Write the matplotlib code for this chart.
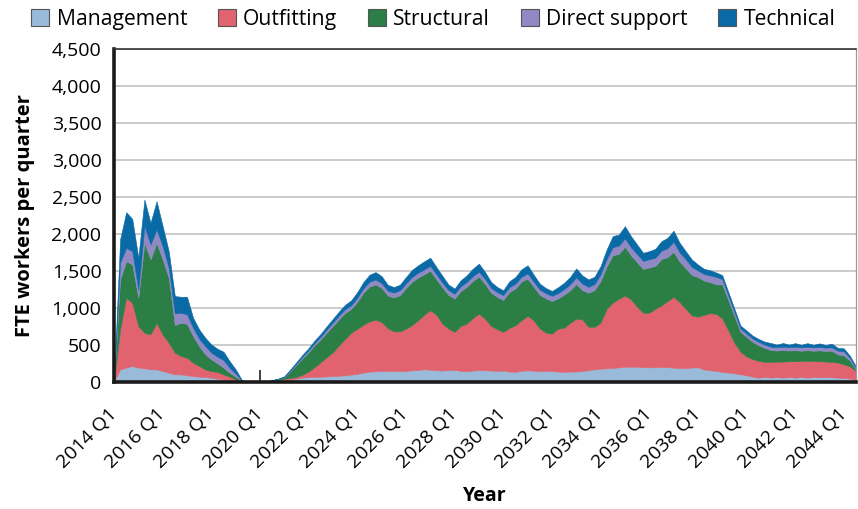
import matplotlib.pyplot as plt
from matplotlib.patches import Patch
from matplotlib.ticker import FuncFormatter

plt.rcParams['font.family'] = ['Open Sans', 'DejaVu Sans']

# FTE workers per quarter, 2014 Q1 .. 2044 Q3
start_year = 2014

management = [
    0, 171, 194, 216, 194, 185, 171, 171, 148, 126,
    103, 103, 90, 81, 72, 67, 58, 45, 36, 27,
    13, 5, 0, 0, 0, 0, 10, 15, 18, 30,
    45, 58, 68, 70, 72, 76, 80, 85, 90, 100,
    112, 125, 140, 145, 147, 148, 148, 148, 148, 159,
    160, 173, 165, 159, 155, 160, 165, 150, 145, 155,
    160, 158, 155, 150, 155, 140, 137, 150, 159, 150,
    145, 150, 150, 140, 138, 140, 142, 148, 160, 171,
    180, 185, 189, 198, 207, 207, 207, 200, 198, 200,
    203, 200, 194, 190, 189, 195, 198, 170, 159, 150,
    136, 127, 118, 104, 91, 73, 59, 68, 59, 66,
    59, 66, 59, 68, 59, 68, 63, 70, 63, 59,
    55, 45, 27]

outfitting = [
    0, 540, 944, 855, 562, 481, 472, 630, 495, 405,
    293, 248, 238, 180, 144, 104, 90, 90, 67, 45,
    23, 5, 0, 0, 0, 0, 5, 10, 27, 24,
    23, 41, 76, 133, 198, 262, 325, 410, 495, 566,
    608, 649, 679, 696, 663, 581, 536, 536, 572, 611,
    674, 737, 804, 751, 634, 562, 512, 608, 644, 710,
    764, 699, 603, 563, 522, 591, 630, 684, 734, 684,
    577, 518, 504, 580, 595, 661, 713, 698, 587, 576,
    621, 805, 882, 927, 963, 909, 810, 736, 738, 790,
    832, 893, 958, 890, 801, 705, 684, 738, 771, 770,
    724, 573, 412, 306, 254, 236, 227, 204, 214, 209,
    218, 214, 222, 216, 227, 215, 218, 207, 209, 204,
    185, 165, 123]

structural = [
    0, 675, 495, 517, 382, 1215, 1015, 1080, 1013, 877,
    373, 450, 456, 360, 270, 203, 158, 117, 91, 54,
    37, 3, 0, 0, 0, 0, 8, 14, 21, 92,
    167, 225, 260, 295, 308, 333, 355, 354, 349, 322,
    365, 431, 470, 479, 461, 440, 459, 490, 548, 585,
    578, 546, 536, 479, 489, 454, 450, 471, 498, 502,
    500, 470, 449, 436, 432, 485, 497, 524, 504, 452,
    457, 462, 441, 410, 447, 439, 470, 394, 459, 495,
    565, 571, 640, 608, 659, 595, 601, 590, 612, 580,
    628, 595, 608, 546, 548, 546, 536, 462, 420, 400,
    460, 407, 365, 268, 265, 233, 210, 188, 159, 150,
    155, 145, 149, 139, 144, 140, 146, 143, 151, 110,
    119, 79, 15]

direct_support = [
    0, 225, 180, 180, 110, 225, 200, 180, 180, 135,
    158, 135, 130, 112, 99, 112, 90, 90, 103, 67,
    40, 7, 0, 0, 0, 0, 2, 3, 5, 10,
    15, 20, 25, 30, 35, 40, 45, 50, 50, 50,
    55, 60, 65, 65, 65, 65, 65, 65, 65, 65,
    65, 65, 65, 65, 65, 65, 65, 65, 65, 65,
    65, 65, 65, 65, 65, 65, 65, 65, 70, 70,
    70, 70, 70, 70, 75, 80, 90, 90, 80, 80,
    90, 100, 110, 110, 112, 110, 110, 110, 110, 110,
    110, 120, 135, 125, 120, 110, 90, 90, 90, 100,
    70, 60, 50, 45, 45, 45, 45, 45, 45, 45,
    45, 45, 45, 45, 45, 45, 45, 45, 45, 50,
    55, 35, 20]

technical = [
    0, 315, 482, 437, 430, 360, 293, 382, 270, 225,
    234, 216, 238, 135, 126, 112, 112, 108, 112, 90,
    58, 10, 0, 0, 0, 0, 2, 3, 5, 15,
    20, 25, 30, 35, 40, 45, 50, 55, 60, 65,
    75, 85, 95, 100, 95, 80, 75, 75, 85, 95,
    100, 110, 110, 100, 90, 75, 70, 80, 90, 100,
    110, 95, 80, 70, 65, 80, 90, 100, 110, 95,
    80, 70, 65, 80, 85, 100, 120, 110, 100, 100,
    110, 130, 150, 150, 165, 150, 130, 110, 110, 120,
    130, 140, 150, 130, 110, 100, 80, 70, 70, 60,
    55, 50, 45, 40, 40, 40, 40, 40, 50, 35,
    50, 35, 50, 35, 50, 35, 50, 35, 50, 40,
    40, 30, 24]

names = ['Management', 'Outfitting', 'Structural', 'Direct support', 'Technical']
colors = ['#99BAD9', '#E0636F', '#2A7E46', '#9189C4', '#0A6AA6']
series = [management, outfitting, structural, direct_support, technical]

quarters = list(range(len(management)))
tick_pos = quarters[::8]
tick_labels = [f"{start_year + q // 4} Q1" for q in tick_pos]

fig = plt.figure(figsize=(8.58, 5.09), dpi=100)
ax = fig.add_axes([114 / 858, 1 - 382 / 509, 742 / 858, 333 / 509])

polys = ax.stackplot(quarters, *series, colors=colors, zorder=2)
for p, c in zip(polys, colors):
    p.set_edgecolor(c)
    p.set_linewidth(0.4)

ax.set_xlim(0, len(quarters) - 1)
ax.set_ylim(0, 4500)
ax.set_yticks(range(0, 4501, 500))
ax.yaxis.set_major_formatter(FuncFormatter(lambda v, p: f"{int(v):,}"))
ax.grid(axis='y', color='#BDBDBD', linewidth=1.1, zorder=0)
ax.set_axisbelow(True)

ax.set_xticks(tick_pos)
ax.set_xticklabels(tick_labels, rotation=45, ha='right', va='center',
                   rotation_mode='anchor')
ax.tick_params(axis='x', direction='in', length=9, width=1.2, color='#222222',
               labelsize=14, pad=21)
ax.tick_params(axis='y', length=0, labelsize=14, pad=9)
for t in ax.get_xticklines():
    t.set_zorder(5)

ax.spines['left'].set_linewidth(2.6)
ax.spines['bottom'].set_linewidth(2.6)
ax.spines['left'].set_color('#1a1a1a')
ax.spines['bottom'].set_color('#1a1a1a')
ax.spines['top'].set_linewidth(1.2)
ax.spines['top'].set_color('#333333')
ax.spines['right'].set_linewidth(0.9)
ax.spines['right'].set_color('#9a9a9a')

ax.set_ylabel('FTE workers per quarter', fontsize=14.5, fontweight='bold', labelpad=12)
ax.set_xlabel('Year', fontsize=14, fontweight='bold', labelpad=10)

handles = [Patch(facecolor=c, edgecolor='#555555', linewidth=0.8) for c in colors]
fig.legend(handles, names, loc='upper center', bbox_to_anchor=(0.505, 1.02), ncol=5,
           frameon=False, fontsize=15.2, handlelength=0.85, handleheight=0.85,
           handletextpad=0.35, columnspacing=1.45)

fig.savefig('out.png', dpi=100)
